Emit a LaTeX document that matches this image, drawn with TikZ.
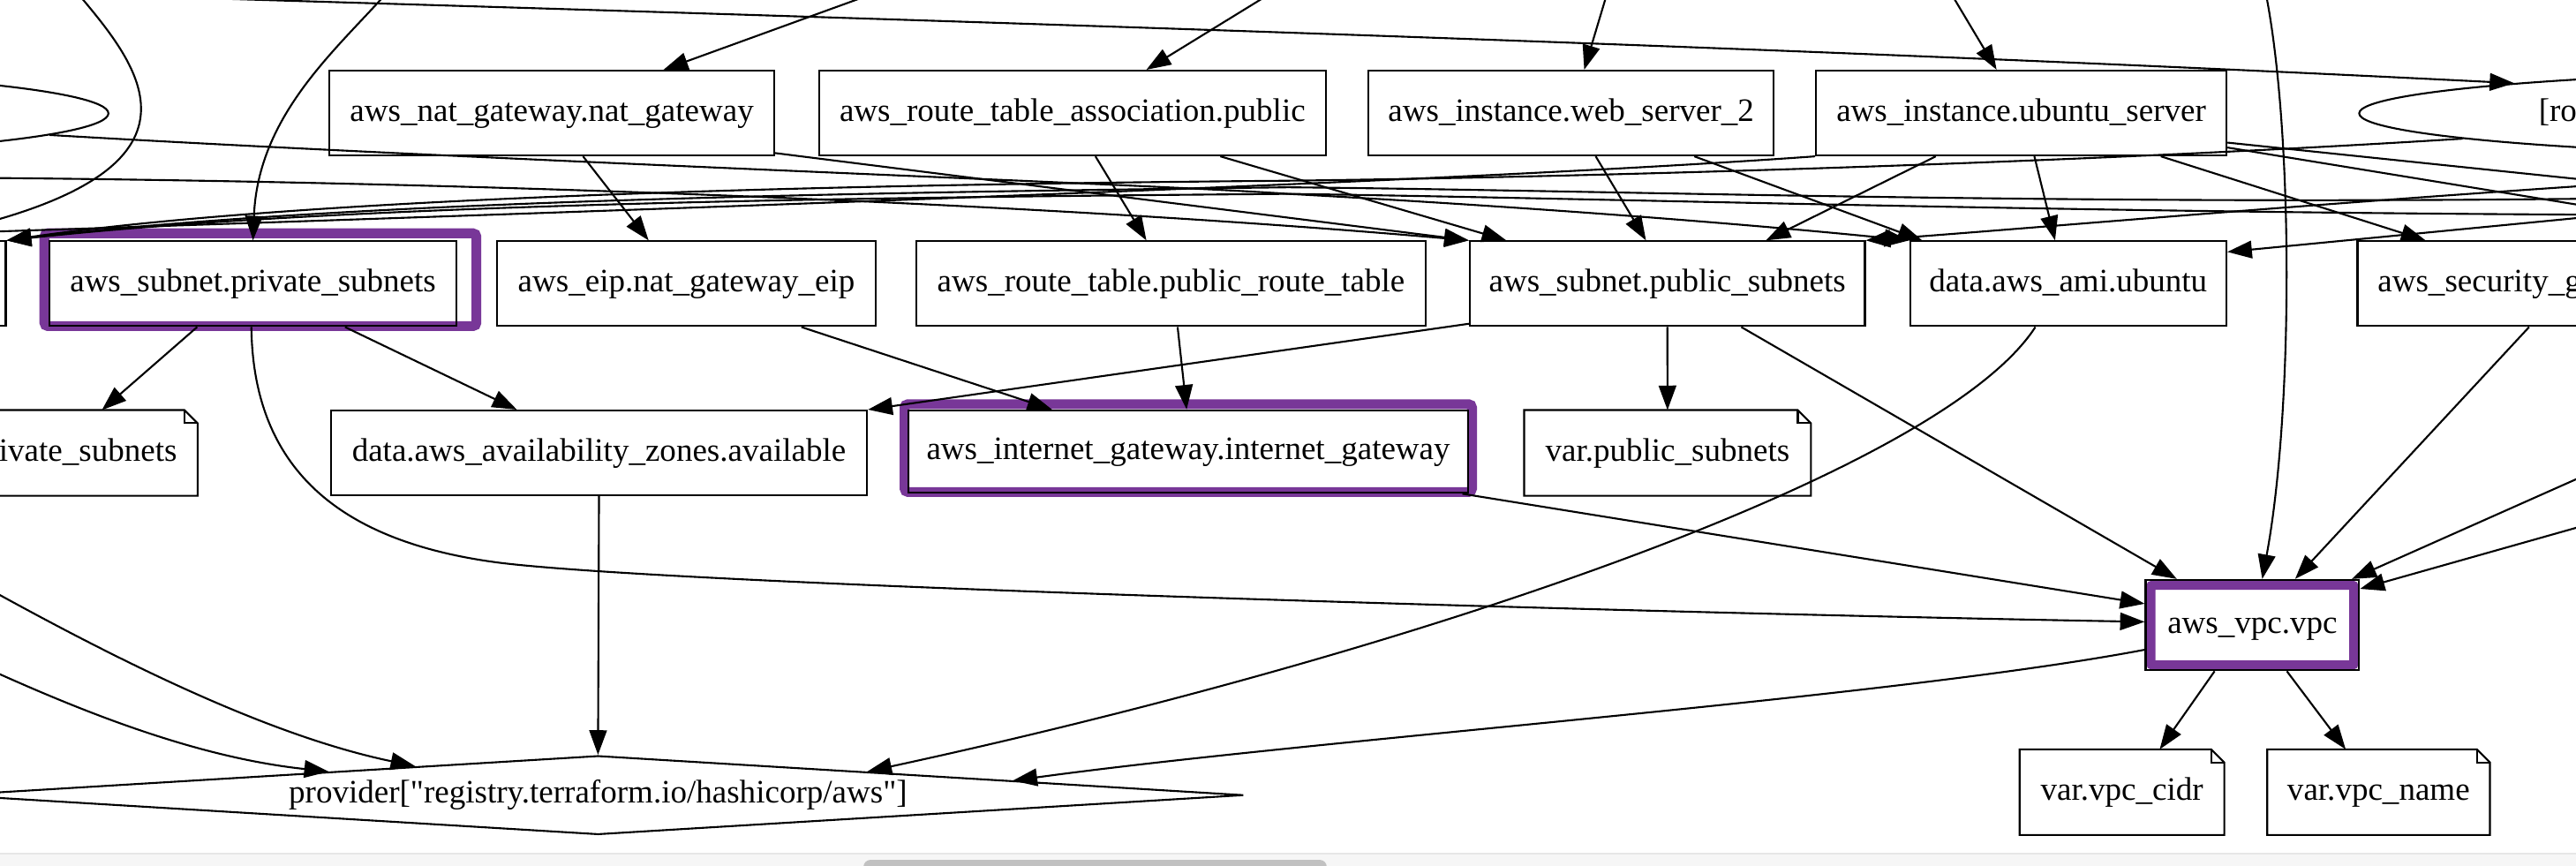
\documentclass[tikz,border=0pt]{standalone}
\usepackage{fontspec}
\setmainfont{Liberation Serif}[Ligatures=TeXOff]
\usetikzlibrary{arrows.meta, shapes.geometric, calc}
\definecolor{hl}{RGB}{120,55,152}
\definecolor{barbg}{RGB}{246,246,246}
\definecolor{barln}{RGB}{230,230,230}
\definecolor{thumb}{RGB}{193,193,193}
\tikzset{
  res/.style={draw, rectangle, line width=0.8pt, inner sep=0pt, text height=10pt, text depth=3pt, minimum height=51.6*0.7034pt},
  varnote/.style={rectangle, inner sep=0pt, text height=10pt, text depth=3pt, minimum height=51.6*0.7034pt},
  lbl/.style={inner sep=0pt, text height=10pt, text depth=3pt},
  bw/.style={minimum width=#1*0.7034pt},
  hilite/.style={draw=hl, line width=4.2pt, rounded corners=1.5pt},
  dep/.style={line width=0.8pt, -{Triangle[length=10.5pt,width=7.5pt]}},
  depline/.style={line width=0.8pt},
}
\begin{document}
\begin{tikzpicture}[x=0.7034pt, y=-0.7034pt, font=\fontsize{14}{16}\selectfont]
\useasboundingbox (0,0) rectangle (1568,527);
\clip (0,0) rectangle (1568,527);
\fill[white] (0,0) rectangle (1568,527);

% highlighted resources
\draw[hilite] (27,142) rectangle (290,198.5);
\draw[hilite] (550.6,246) rectangle (896,299.5);
\draw[hilite] (1309,356) rectangle (1433,405);

% row 1
\node[res, bw=270.7] (nat) at (335.9,68.8) {aws\_nat\_gateway.nat\_gateway};
\node[res, bw=308.4] (rta) at (652.8,68.8) {aws\_route\_table\_association.public};
\node[res, bw=246.6] (ws2) at (956.3,68.8) {aws\_instance.web\_server\_2};
\node[res, bw=249.9] (ubu) at (1230.3,68.8) {aws\_instance.ubuntu\_server};
\node[ellipse, draw, line width=0.8pt, inner sep=0pt, bw=714, minimum height=53*0.7034pt] (rootR) at (1793,69) {};
\node[lbl, anchor=west] (rootRtxt) at (1545,69) {[ro};
\node[ellipse, draw, line width=0.8pt, inner sep=0pt, bw=574, minimum height=53*0.7034pt] (rootL) at (-221,69) {};

% row 2
\node[res, bw=127] (leftbox) at (-60,172.7) {};
\node[res, bw=248] (priv) at (154,172.7) {aws\_subnet.private\_subnets};
\node[res, bw=230.4] (eip) at (417.8,172.7) {aws\_eip.nat\_gateway\_eip};
\node[res, bw=310] (rt) at (712.8,172.7) {aws\_route\_table.public\_route\_table};
\node[res, bw=240.5] (pub) at (1014.9,172.7) {aws\_subnet.public\_subnets};
\node[res, bw=192.6] (ami) at (1258.9,172.7) {data.aws\_ami.ubuntu};
\node[res, bw=230] (sg) at (1550,172.7) {};
\node[lbl, anchor=west] (sgtxt) at (1447,172.7) {aws\_security\_g};

% row 3
\node[varnote, bw=200] (privvar) at (20,275.7) {};
\node[lbl, anchor=east] (privvartxt) at (108,275.7) {ivate\_subnets};
\node[res, bw=326.3] (az) at (364.6,275.7) {data.aws\_availability\_zones.available};
\node[res, bw=340.6, minimum height=50.2*0.7034pt] (igw) at (723.3,274.9) {aws\_internet\_gateway.internet\_gateway};
\node[varnote, bw=174] (pubvar) at (1015,275.7) {var.public\_subnets};

% rows 4 and 5
\node[res, bw=130, minimum height=55*0.7034pt] (vpc) at (1371,380.5) {aws\_vpc.vpc};
\node[diamond, draw, line width=0.8pt, inner sep=0pt, text height=10pt, text depth=3pt, aspect=16, bw=786, minimum height=48*0.7034pt] (prov) at (364,484) {provider["registry.terraform.io/hashicorp/aws"]};
\node[varnote, bw=124] (cidr) at (1291.6,482.2) {var.vpc\_cidr};
\node[varnote, bw=135] (vname) at (1447.8,482.2) {var.vpc\_name};

\foreach \n in {privvar,pubvar,cidr,vname}{
  \draw[depline] (\n.south west) -- (\n.north west) -- ($(\n.north east)+(-8,0)$) -- ($(\n.north east)+(0,8)$) -- (\n.south east) -- cycle;
  \draw[depline] ($(\n.north east)+(-8,0)$) -- ($(\n.north east)+(-8,8)$) -- ($(\n.north east)+(0,8)$);
}

% off-picture ends
\coordinate (tA) at (534.6,-5);
\coordinate (tB) at (775,-5);
\coordinate (tC) at (978.5,-5);
\coordinate (tD) at (1187,-5);
\coordinate (tE) at (60,-3);
\coordinate (tF) at (44,-8);
\coordinate (lF) at (-10,136);
\coordinate (tG) at (236,-5);
\coordinate (tH) at (1379,-5);
\coordinate (oR1) at (1700,122.6);
\coordinate (oR2) at (1700,146);
\coordinate (oR3) at (1700,119);
\coordinate (oR4) at (1700,131);
\coordinate (oRa) at (1700,105);
\coordinate (oRd) at (1700,120);
\coordinate (oR5) at (1700,233);
\coordinate (oR6) at (1700,284);
\coordinate (oL1) at (-50,142.5);
\coordinate (oL3) at (-50,108);
\coordinate (oL4) at (-40,340);
\coordinate (oL5) at (-40,392);

% from above
\draw[dep] (tA) -- ($(nat.north)+(68,0)$);
\draw[dep] (tB) -- ($(rta.north)+(45,0)$);
\draw[dep] (tC) -- ($(ws2.north)+(8,0)$);
\draw[dep] (tD) -- ($(ubu.north)+(-15,0)$);
\draw[dep] (tE) .. controls (600,13) and (1100,29) .. (rootR.176.3);
\draw[depline] (tF) .. controls (80,35) and (137.6,96.7) .. (lF);
\draw[dep] (tG) .. controls (205,30) and (157,70) .. (priv.north);
\draw[dep] (tH) .. controls (1396,80) and (1396,250) .. ($(vpc.north)+(6,0)$);

% row 1 to row 2
\draw[dep] ($(nat.south)+(19,0)$) -- ($(eip.north)+(-23,0)$);
\draw[dep] ($(nat.south east)+(0,-2)$) -- (pub.north west);
\draw[dep] ($(rta.south)+(14,0)$) -- ($(rt.north)+(-15,0)$);
\draw[dep] ($(rta.south)+(90,0)$) -- ($(pub.north)+(-98,0)$);
\draw[dep] ($(ws2.south)+(15,0)$) -- ($(pub.north)+(-13,0)$);
\draw[dep] ($(ws2.south)+(75,0)$) -- ($(ami.north west)+(8,0)$);
\draw[dep] ($(ubu.south)+(-52,0)$) -- ($(pub.north)+(60,0)$);
\draw[dep] ($(ubu.south)+(8,0)$) -- ($(ami.north)+(-8,0)$);
\draw[dep] ($(ubu.south)+(85,0)$) -- ($(sg.north west)+(42,0)$);
\draw[dep] ($(ubu.east)+(0,18)$) -- (oR1);
\draw[dep] ($(ubu.east)+(0,21)$) -- (oR2);
\draw[dep] (ubu.south west) .. controls (900,110) and (450,126) .. (oL1);

% long crossings
\draw[dep] (rootR.183.9) .. controls (1250,100) and (950,108) .. (784,110) .. controls (550,112) and (200,118) .. (leftbox.north east);
\draw[dep] (oR3) .. controls (1300,127) and (1000,116) .. (784,114) .. controls (550,117) and (220,121) .. (leftbox.north east);
\draw[dep] (oR4) .. controls (1300,131) and (1000,121) .. (784,118) .. controls (550,120) and (220,123) .. (leftbox.north east);
\draw[dep] (oRa) .. controls (1450,120) and (1250,138) .. (pub.north east);
\draw[dep] (oRd) -- ($(ami.north east)+(0,7)$);
\draw[dep] (rootL.-3.4) .. controls (300,98) and (700,112) .. (784,118) .. controls (950,127) and (1080,138) .. (ami.north west);
\draw[dep] (oL3) .. controls (300,110) and (650,125) .. (pub.north west);

% lower part
\draw[dep] ($(priv.south)+(-34,0)$) -- ($(privvar.north)+(42,0)$);
\draw[dep] ($(priv.south)+(56,0)$) -- ($(az.north)+(-50,0)$);
\draw[dep] ($(priv.south)+(-1,0)$) .. controls (154,280) and (200,328) .. (300,342) .. controls (400,356) and (1000,373) .. ($(vpc.west)+(0,-2)$);
\draw[dep] (az.south) -- (prov.north);
\draw[dep] ($(eip.south)+(70,0)$) -- ($(igw.north)+(-83,0)$);
\draw[dep] ($(rt.south)+(4,0)$) -- ($(igw.north)+(-1,0)$);
\draw[dep] ($(pub.south west)+(0,-2)$) -- (az.north east);
\draw[dep] (pub.south) -- (pubvar.north);
\draw[dep] ($(pub.south)+(45,0)$) -- ($(vpc.north)+(-46,0)$);
\draw[dep] ($(ami.south)+(-20,0)$) .. controls (1180,290) and (850,400) .. (prov.5.5);
\draw[dep] ($(igw.south east)+(-4,0)$) -- ($(vpc.west)+(0,-13)$);
\draw[dep] ($(vpc.west)+(0,15)$) .. controls (1150,425) and (800,450) .. (prov.2.6);
\draw[dep] ($(vpc.south)+(-23,0)$) -- ($(cidr.north)+(23,0)$);
\draw[dep] ($(vpc.south)+(21,0)$) -- ($(vname.north)+(-20,0)$);
\draw[dep] ($(sg.south west)+(105,0)$) -- ($(vpc.north)+(26,0)$);
\draw[dep] (oR5) -- ($(vpc.north east)+(-5,0)$);
\draw[dep] (oR6) -- ($(vpc.north east)+(0,6)$);
\draw[dep] (oL4) .. controls (40,385) and (150,445) .. (prov.171.5);
\draw[dep] (oL5) .. controls (30,425) and (110,460) .. (prov.175.7);

% scroll bar
\fill[barbg] (0,519.4) rectangle (1568,530);
\draw[barln, line width=0.8pt] (0,519.4) -- (1568,519.4);
\fill[thumb, rounded corners=3pt] (525.6,523.4) rectangle (807.6,535);
\end{tikzpicture}
\end{document}
